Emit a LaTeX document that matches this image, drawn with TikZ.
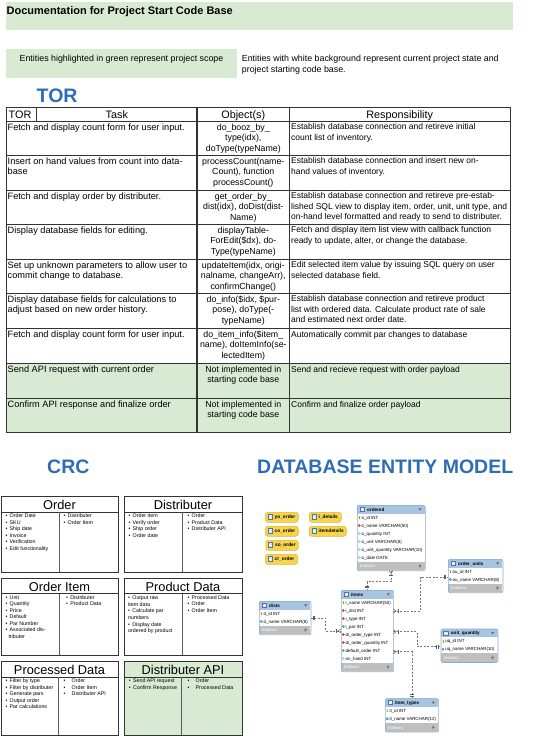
\documentclass[tikz,border=0pt]{standalone}
\usepackage{fontspec}
\setmainfont{Liberation Sans}
\newcommand\pxf[2]{\fontsize{#1}{#2}\selectfont}
\newcommand\bul{\makebox[4.2pt][l]{\textbullet}}
\newcommand\bulw{\makebox[8.2pt][l]{\textbullet}}
\definecolor{gfill}{HTML}{D9EAD3}
\definecolor{tblue}{HTML}{2E6DB4}
\definecolor{tline}{HTML}{333333}
\definecolor{dbhead}{HTML}{A7C4E2}
\definecolor{dbedge}{HTML}{8AAED3}
\definecolor{dbidx}{HTML}{BFBFBF}
\definecolor{pillf}{HTML}{F6D54E}
\definecolor{pilld}{HTML}{E2B72C}
\definecolor{fkred}{HTML}{D65A50}
\definecolor{fteal}{HTML}{5DB8D6}
\definecolor{keyy}{HTML}{E8C22A}
\definecolor{dashg}{HTML}{777777}
\definecolor{iconb}{HTML}{4F74A6}
\definecolor{iconf}{HTML}{DDE8F4}
% database table frame: name, x1, y1, x2, rows, title
\newcommand\dbt[6]{%
  \pgfmathsetmacro\dbyb{#3+17.5+8*#5}%
  \pgfmathsetmacro\dbyh{#3+8.5}%
  \pgfmathsetmacro\dbyi{\dbyb-9}%
  \pgfmathsetmacro\dbw{#4-#2}%
  \pgfmathsetmacro\dbh{\dbyb-#3}%
  \begin{scope}
    \clip[rounded corners=2pt] (#2,#3) rectangle (#4,\dbyb);
    \fill[white] (#2,#3) rectangle (#4,\dbyb);
    \fill[dbhead] (#2,#3) rectangle (#4,\dbyh);
    \fill[dbidx] (#2,\dbyi) rectangle (#4,\dbyb);
  \end{scope}
  \node[draw=dbedge, line width=0.6pt, rounded corners=2pt, anchor=north west,
        minimum width=\dbw pt, minimum height=\dbh pt] (#1) at (#2,#3) {};
  \draw[dbicon] ({#2+3},{#3+2.2}) rectangle ++(4.5,4.2);
  \draw[white, line width=0.3pt] ({#2+3.8},{#3+4.3}) -- ++(2.9,0);
  \node[anchor=base west, font=\bfseries\pxf{4.6}{5.5}] at ({#2+10},{#3+6.2}) {#6};
  \fill[black!60] ({#4-6.5},{#3+3.4}) -- ++(3,0) -- ++(-1.5,2.2) -- cycle;
  \node[anchor=base west, font=\pxf{4.2}{5}, text=white] at ({#2+3},{\dbyb-2.8}) {Indexes};
  \fill[black!55] ({#4-6},{\dbyb-6.3}) -- ++(0,3.4) -- ++(2.5,-1.7) -- cycle;
}
% field: x1, top, k, icon, text
\newcommand\dbf[5]{%
  \pgfmathsetmacro\dbfy{#2+12.5+8*(#3-1)}%
  \pgfmathsetmacro\dbfx{#1+2.3}%
  \csname dbic#4\endcsname{\dbfx}{\dbfy}%
  \node[anchor=base west, font=\pxf{4.45}{5.5}] at ({#1+4.4},{\dbfy+1.6}) {#5};
}
\newcommand\dbickey[2]{\fill[keyy] ({#1},{#2-0.9}) circle (1.0pt);
  \draw[keyy!70!black, line width=0.45pt] ({#1},{#2-0.2}) -- ({#1},{#2+1.5});}
\newcommand\dbicfk[2]{\filldraw[fill=fkred, draw=fkred!70!black, line width=0.3pt]
  ({#1-1.2},{#2}) -- ({#1},{#2-1.2}) -- ({#1+1.2},{#2}) -- ({#1},{#2+1.2}) -- cycle;}
\newcommand\dbiccol[2]{\filldraw[fill=fteal, draw=fteal!70!black, line width=0.3pt]
  ({#1-1.2},{#2}) -- ({#1},{#2-1.2}) -- ({#1+1.2},{#2}) -- ({#1},{#2+1.2}) -- cycle;}
\newcommand\dbicnul[2]{\filldraw[fill=white, draw=fteal, line width=0.35pt]
  ({#1-1.1},{#2}) -- ({#1},{#2-1.1}) -- ({#1+1.1},{#2}) -- ({#1},{#2+1.1}) -- cycle;}
% pill: name x1 y1 x2 y2 text
\newcommand\pill[6]{%
  \pgfmathsetmacro\pilw{#4-#2}\pgfmathsetmacro\pilh{#5-#3}%
  \node[pill, minimum width=\pilw pt, minimum height=\pilh pt] (#1) at (#2,#3) {};
  \draw[dbicon] ({#2+2.8},{#3+2.6}) rectangle ++(4.4,4.4);
  \draw[white, line width=0.3pt] ({#2+3.6},{#3+4.8}) -- ++(2.8,0);
  \node[anchor=base west, font=\bfseries\pxf{4.8}{5.5}] at ({#2+9.5},{#3+6.7}) {#6};
}
% markers: x, y, direction (1 or -1)
\newcommand\mkbarsh[3]{\draw[dbmk] ({#1+(#3)*2.5},{#2-2}) -- ++(0,4); \draw[dbmk] ({#1+(#3)*4},{#2-2}) -- ++(0,4);}
\newcommand\mkcrowh[3]{\draw[dbmk] ({#1+(#3)*5},{#2-2}) -- ++(0,4); \draw[dbmk] ({#1},{#2-2}) -- ({#1+(#3)*3},{#2}) -- ({#1},{#2+2});}
\newcommand\mkbarsv[3]{\draw[dbmk] ({#1-2},{#2+(#3)*2.5}) -- ++(4,0); \draw[dbmk] ({#1-2},{#2+(#3)*4}) -- ++(4,0);}
\newcommand\mkcrowv[3]{\draw[dbmk] ({#1-2},{#2+(#3)*5}) -- ++(4,0); \draw[dbmk] ({#1-2},{#2}) -- ({#1},{#2+(#3)*3}) -- ({#1+2},{#2});}

\begin{document}
\begin{tikzpicture}[x=1pt,y=-1pt,
  every node/.style={inner sep=0pt},
  tcell/.style={anchor=north west, align=left, font=\pxf{9.2}{10.5}, execute at begin node={\rule{0pt}{7pt}}},
  ocell/.style={anchor=north, align=center, font=\pxf{8.8}{10.5}, execute at begin node={\rule{0pt}{7pt}}},
  rcell/.style={anchor=north west, align=left, font=\pxf{8.5}{10.5}, execute at begin node={\rule{0pt}{7pt}}},
  thead/.style={anchor=base, font=\pxf{10.8}{12}},
  bigtitle/.style={anchor=base west, font=\bfseries\pxf{19.5}{22}, text=tblue},
  card/.style={draw=tline, line width=1.2pt, anchor=north west},
  cardtitle/.style={anchor=base, font=\pxf{12.8}{14}},
  crclist/.style={anchor=north west, align=left, font=\pxf{5.3}{6.5}, execute at begin node={\rule{0pt}{4.2pt}}},
  pill/.style={draw=pilld, fill=pillf, line width=0.5pt, rounded corners=2.5pt, anchor=north west},
  dbicon/.style={draw=iconb, fill=iconf, line width=0.45pt},
  dbline/.style={draw=dashg, line width=0.6pt, dash pattern=on 2pt off 1.5pt},
  dbmk/.style={draw=dashg!80!black, line width=0.5pt},
]
\useasboundingbox (0,0) rectangle (545,736);

% ---------- header ----------
\node[fill=gfill, anchor=north west, minimum width=507pt, minimum height=28pt] (hdr) at (6,2) {};
\node[anchor=west, font=\bfseries\pxf{11}{13}] (doctitle) at (6.5,12) {Documentation for Project Start Code Base};

\node[fill=gfill, anchor=north west, minimum width=230.5pt, minimum height=29pt] (legbox) at (6,49) {};
\node[anchor=base, font=\pxf{8.85}{10.6}] (legtext) at (121.5,61.8) {Entities highlighted in green represent project scope};
\node[anchor=north west, align=left, font=\pxf{8.85}{10.6}, execute at begin node={\rule{0pt}{7pt}}] (legwhite) at (241.7,54.8)
  {Entities with white background represent current project state and\\project starting code base.};

% ---------- TOR ----------
\node[bigtitle] (tortitle) at (36.5,102) {TOR};

\fill[gfill] (6.3,363) rectangle (510,432);
\foreach \yy in {121,155,190,224,259,293,328,363,398}
  \draw[tline, line width=0.9pt] (6.3,\yy) -- (510,\yy);
\draw[tline, line width=0.9pt] (6.3,107) rectangle (510,432);
\draw[tline, line width=0.9pt] (36.5,107) -- (36.5,121);
\draw[tline, line width=1.7pt] (197.2,107) -- (197.2,432);
\draw[tline, line width=1.7pt] (289.4,107) -- (289.4,432);

\node[thead, anchor=base west] (hTOR) at (8.5,118) {TOR};
\node[thead] (hTask) at (116.8,118) {Task};
\node[thead] (hObj) at (243.3,118) {Object(s)};
\node[thead] (hResp) at (399.7,118) {Responsibility};

% row 1
\node[tcell] (t1) at (7.5,123.6) {Fetch and display count form for user input.};
\node[ocell] (o1) at (243.3,123.6) {do\_booz\_by\_\\type(idx),\\doType(typeName)};
\node[rcell] (r1) at (291,123.6) {Establish database connection and retireve initial\\count list of inventory.};
% row 2
\node[tcell] (t2) at (7.5,157.6) {Insert on hand values from count into data-\\base};
\node[ocell] (o2) at (243.3,157.6) {processCount(name-\\Count), function\\processCount()};
\node[rcell] (r2) at (291,157.6) {Establish database connection and insert new on-\\hand values of inventory.};
% row 3
\node[tcell] (t3) at (7.5,192.6) {Fetch and display order by distributer.};
\node[ocell] (o3) at (243.3,192.6) {get\_order\_by\_\\dist(idx), doDist(dist-\\Name)};
\node[rcell] (r3) at (291,192.6) {Establish database connection and retireve pre-estab-\\lished SQL view to display item, order, unit, unit type, and\\on-hand level formatted and ready to send to distributer.};
% row 4
\node[tcell] (t4) at (7.5,226.6) {Display database fields for editing.};
\node[ocell] (o4) at (243.3,226.6) {displayTable-\\ForEdit(\$dx), do-\\Type(typeName)};
\node[rcell] (r4) at (291,226.6) {Fetch and display item list view with callback function\\ready to update, alter, or change the database.};
% row 5
\node[tcell] (t5) at (7.5,261.6) {Set up unknown parameters to allow user to\\commit change to database.};
\node[ocell] (o5) at (243.3,261.6) {updateItem(idx, origi-\\nalname, changeArr),\\confirmChange()};
\node[rcell] (r5) at (291,261.6) {Edit selected item value by issuing SQL query on user\\selected database field.};
% row 6
\node[tcell] (t6) at (7.5,295.6) {Display database fields for calculations to\\adjust based on new order history.};
\node[ocell] (o6) at (243.3,295.6) {do\_info(\$idx, \$pur-\\pose), doType(-\\typeName)};
\node[rcell] (r6) at (291,295.6) {Establish database connection and retireve product\\list with ordered data. Calculate product rate of sale\\and estimated next order date.};
% row 7
\node[tcell] (t7) at (7.5,330.6) {Fetch and display count form for user input.};
\node[ocell] (o7) at (243.3,330.6) {do\_item\_info(\$item\_\\name), doItemInfo(se-\\lectedItem)};
\node[rcell] (r7) at (291,330.6) {Automatically commit par changes to database};
% row 8
\node[tcell] (t8) at (7.5,365.6) {Send API request with current order};
\node[ocell] (o8) at (243.3,365.6) {Not implemented in\\starting code base};
\node[rcell] (r8) at (291,365.6) {Send and recieve request with order payload};
% row 9
\node[tcell] (t9) at (7.5,400.6) {Confirm API response and finalize order};
\node[ocell] (o9) at (243.3,400.6) {Not implemented in\\starting code base};
\node[rcell] (r9) at (291,400.6) {Confirm and finalize order payload};

% ---------- CRC ----------
\node[bigtitle] (crctitle) at (47,473) {CRC};

\node[card, minimum width=117pt, minimum height=76pt] (cOrder) at (1,496) {};
\draw[tline, line width=0.9pt] (1,512) -- (118,512);
\draw[tline!80, line width=0.7pt] (59.3,512) -- (59.3,572);
\node[cardtitle] (cOrderT) at (59.5,509) {Order};
\node[crclist] (cOrderL) at (5.3,513.5) {\bul Order Date\\\bul SKU\\\bul Ship date\\\bul Invoice\\\bul Verification\\\bul Edit functionality};
\node[crclist] (cOrderR) at (63.3,513.5) {\bul Distributer\\\bul Order Item};

\node[card, minimum width=118pt, minimum height=76pt] (cDist) at (124,496) {};
\draw[tline, line width=0.9pt] (124,512) -- (242,512);
\draw[tline!80, line width=0.7pt] (182.7,512) -- (182.7,572);
\node[cardtitle] (cDistT) at (183,509) {Distributer};
\node[crclist] (cDistL) at (128.3,513.5) {\bul Order item\\\bul Verify order\\\bul Ship order\\\bul Order date};
\node[crclist] (cDistR) at (187.3,513.5) {\bul Order\\\bul Product Data\\\bul Distributer API};

\node[card, minimum width=117pt, minimum height=77pt] (cItem) at (1,578) {};
\draw[tline, line width=0.9pt] (1,593.5) -- (118,593.5);
\draw[tline!80, line width=0.7pt] (59.3,593.5) -- (59.3,655);
\node[cardtitle] (cItemT) at (59.5,591) {Order Item};
\node[crclist] (cItemL) at (5.3,595) {\bul Unit\\\bul Quantity\\\bul Price\\\bul Default\\\bul Par Number\\\bul Associated dis-\\\hspace*{3pt}tributer};
\node[crclist] (cItemR) at (66,595) {\bul Distributer\\\bul Product Data};

\node[card, minimum width=118pt, minimum height=77pt] (cProd) at (124,578) {};
\draw[tline, line width=0.9pt] (124,593.5) -- (242,593.5);
\draw[tline!80, line width=0.7pt] (182.7,593.5) -- (182.7,655);
\node[cardtitle] (cProdT) at (183,591) {Product Data};
\node[crclist, font=\pxf{5.3}{6.7}] (cProdL) at (128,595.5) {\bul Output raw\\item data\\\bul Calculate par\\numbers\\\bul Display date\\ordered by product};
\node[crclist] (cProdR) at (187.3,595) {\bul Processed Data\\\bul Order\\\bul Order Item};

\node[card, minimum width=117pt, minimum height=74pt] (cProc) at (1,661) {};
\draw[tline, line width=0.9pt] (1,677) -- (118,677);
\draw[tline!80, line width=0.7pt] (58.7,677) -- (58.7,735);
\node[cardtitle] (cProcT) at (59.5,674) {Processed Data};
\node[crclist] (cProcL) at (5.3,678.5) {\bul Filter by type\\\bul Filter by distributer\\\bul Generate pars\\\bul Output order\\\bul Par calculations};
\node[crclist] (cProcR) at (63.3,678.5) {\bulw Order\\\bulw Order Item\\\bulw Distributer API};

\node[card, fill=gfill, minimum width=118pt, minimum height=74pt] (cApi) at (124,661) {};
\draw[tline, line width=0.9pt] (124,677) -- (242,677);
\draw[tline!80, line width=0.7pt] (181.7,677) -- (181.7,735);
\node[cardtitle] (cApiT) at (183,674) {Distributer API};
\node[crclist] (cApiL) at (128.7,678.5) {\bul Send API request\\\bul Confirm Response};
\node[crclist] (cApiR) at (187.3,678.5) {\bulw Order\\\bulw Processed Data};

% ---------- DATABASE ENTITY MODEL ----------
\node[bigtitle] (dbtitle) at (257,473) {DATABASE ENTITY MODEL};

\pill{yo}{265}{512}{298}{522}{yo\_order}
\pill{co}{265}{526}{298}{536}{co\_order}
\pill{so}{265.5}{540}{298}{550}{so\_order}
\pill{cr}{265}{554}{297.5}{564}{cr\_order}
\pill{idet}{309}{512}{341}{522}{i\_details}
\pill{itdet}{309}{526}{346}{536}{itemdetails}

% connectors (behind tables)
\draw[dbline] (391,570.5) -- ++(0,11.2) -| (367.15,590);
\draw[dbline] (393.3,611) -- (420.7,611) |- (448,577);
\draw[dbline] (393.3,631.7) -- (417,631.7) |- (440.7,646.7);
\draw[dbline] (393.3,651.7) -| (412,698.3);
\draw[dbline] (310.7,618.3) -- (325.7,618.3) |- (341,631);

\dbt{ordered}{357}{505}{425}{6}{ordered}
\dbf{357}{505}{1}{key}{o\_id INT}
\dbf{357}{505}{2}{fk}{o\_name VARCHAR(50)}
\dbf{357}{505}{3}{nul}{o\_quantity INT}
\dbf{357}{505}{4}{nul}{o\_unit VARCHAR(8)}
\dbf{357}{505}{5}{nul}{o\_unit\_quantity VARCHAR(10)}
\dbf{357}{505}{6}{nul}{o\_date DATE}

\dbt{orderunits}{448}{559}{502.7}{2}{order\_units}
\dbf{448}{559}{1}{key}{ou\_id INT}
\dbf{448}{559}{2}{col}{ou\_name VARCHAR(8)}

\dbt{unitquantity}{440.7}{628.7}{497.7}{2}{unit\_quantity}
\dbf{440.7}{628.7}{1}{key}{uq\_id INT}
\dbf{440.7}{628.7}{2}{col}{uq\_name VARCHAR(10)}

\dbt{items}{341}{590}{393.3}{8}{items}
\dbf{341}{590}{1}{key}{i\_name VARCHAR(50)}
\dbf{341}{590}{2}{fk}{i\_dist INT}
\dbf{341}{590}{3}{fk}{i\_type INT}
\dbf{341}{590}{4}{col}{i\_par INT}
\dbf{341}{590}{5}{fk}{di\_order\_type INT}
\dbf{341}{590}{6}{fk}{di\_order\_quantity INT}
\dbf{341}{590}{7}{col}{default\_order INT}
\dbf{341}{590}{8}{nul}{on\_hand INT}

\dbt{dists}{259}{601}{310.7}{2}{dists}
\dbf{259}{601}{1}{key}{d\_id INT}
\dbf{259}{601}{2}{col}{d\_name VARCHAR(8)}

\dbt{itemtypes}{385}{698.3}{438.3}{2}{item\_types}
\dbf{385}{698.3}{1}{key}{it\_id INT}
\dbf{385}{698.3}{2}{col}{it\_name VARCHAR(12)}

% relationship end markers
\mkcrowv{391}{570.5}{1}
\mkbarsv{367.15}{590}{-1}
\mkcrowh{393.3}{611}{1}
\mkbarsh{448}{577}{-1}
\mkcrowh{393.3}{631.7}{1}
\mkbarsh{440.7}{646.7}{-1}
\mkcrowh{393.3}{651.7}{1}
\mkbarsv{412}{698.3}{-1}
\mkcrowh{341}{631}{-1}
\mkbarsh{310.7}{618.3}{1}
\end{tikzpicture}
\end{document}
